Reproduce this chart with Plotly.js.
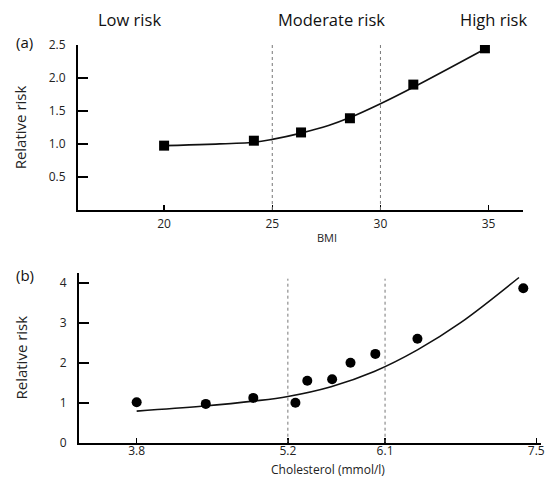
<!DOCTYPE html>
<html>
<head>
<meta charset="utf-8">
<script src="https://cdn.plot.ly/plotly-3.0.1.min.js"></script>
<style>html,body{margin:0;padding:0;background:#fff;}#chart{width:551px;height:481px;}</style>
</head>
<body>
<div id="chart"></div>
<script>
// Panel (a): BMI vs relative risk
const bmiX = [20, 24.15, 26.33, 28.59, 31.52, 34.83];
const bmiRisk = [0.975, 1.05, 1.175, 1.39, 1.90, 2.45];
const bmiCurveX = [20, 22, 24.15, 25, 26.33, 27.6, 28.59, 30, 31.52, 34.83];
const bmiCurveY = [0.975, 0.995, 1.027, 1.07, 1.165, 1.28, 1.40, 1.61, 1.86, 2.44];
const bmiCutoffs = [25, 30];
const bmiTicks = [20, 25, 30, 35];
const riskTicksA = [0.5, 1.0, 1.5, 2.0, 2.5];

// Panel (b): Cholesterol vs relative risk
const cholX = [3.8, 4.44, 4.88, 5.27, 5.38, 5.61, 5.78, 6.01, 6.40, 7.38];
const cholRisk = [1.01, 0.97, 1.12, 1.00, 1.55, 1.585, 2.00, 2.22, 2.60, 3.86];
const cholCurveX = [3.8, 4.4, 4.9, 5.2, 5.6, 6.0, 6.4, 6.8, 7.34];
const cholCurveY = [0.79, 0.91, 1.045, 1.156, 1.40, 1.78, 2.32, 3.0, 4.13];
const cholCutoffs = [5.2, 6.1];
const cholTicks = [3.8, 5.2, 6.1, 7.5];
const riskTicksB = [0, 1, 2, 3, 4];

const zoneLabels = ["Low risk", "Moderate risk", "High risk"];

const FONT = "'Open Sans', 'DejaVu Sans', sans-serif";
const W = 551, H = 481;

const traces = [
  {x: bmiCurveX, y: bmiCurveY, mode: 'lines', line: {color: '#111', width: 1.6, shape: 'spline', smoothing: 1}, xaxis: 'x', yaxis: 'y', hoverinfo: 'skip'},
  {x: bmiX, y: bmiRisk, mode: 'markers', marker: {symbol: 'square', size: 10, color: '#000'}, xaxis: 'x', yaxis: 'y'},
  {x: cholCurveX, y: cholCurveY, mode: 'lines', line: {color: '#111', width: 1.6, shape: 'spline', smoothing: 1}, xaxis: 'x2', yaxis: 'y2', hoverinfo: 'skip'},
  {x: cholX, y: cholRisk, mode: 'markers', marker: {symbol: 'circle', size: 10, color: '#000'}, xaxis: 'x2', yaxis: 'y2'}
];

const shapes = [];
bmiCutoffs.forEach(c => shapes.push({type: 'line', xref: 'x', yref: 'y', x0: c, x1: c, y0: 0, y1: 2.5, line: {color: '#777', width: 1, dash: 'dot'}}));
cholCutoffs.forEach(c => shapes.push({type: 'line', xref: 'x2', yref: 'y2', x0: c, x1: c, y0: 0, y1: 4.1, line: {color: '#777', width: 1, dash: 'dot'}}));

const annPos = [129, 331.5, 493];
const annotations = zoneLabels.map((t, i) => ({
  text: t, xref: 'paper', yref: 'paper', x: annPos[i] / W, y: 1 - 19 / H,
  xanchor: 'center', yanchor: 'middle', showarrow: false, font: {family: FONT, size: 16.5, color: '#111'}
}));
annotations.push({text: '(a)', xref: 'paper', yref: 'paper', x: 24.5 / W, y: 1 - 41.5 / H, xanchor: 'center', yanchor: 'middle', showarrow: false, font: {family: FONT, size: 15, color: '#111'}});
annotations.push({text: '(b)', xref: 'paper', yref: 'paper', x: 24.5 / W, y: 1 - 275 / H, xanchor: 'center', yanchor: 'middle', showarrow: false, font: {family: FONT, size: 15, color: '#111'}});
annotations.push({text: 'BMI', xref: 'paper', yref: 'paper', x: 327 / W, y: 1 - 237.5 / H, xanchor: 'center', yanchor: 'middle', showarrow: false, font: {family: FONT, size: 11, color: '#222'}});
annotations.push({text: 'Cholesterol (mmol/l)', xref: 'paper', yref: 'paper', x: 327.5 / W, y: 1 - 469 / H, xanchor: 'center', yanchor: 'middle', showarrow: false, font: {family: FONT, size: 12, color: '#222'}});

const axisCommon = {
  showgrid: false, zeroline: false, showline: true, linecolor: '#000', linewidth: 2,
  tickcolor: '#000', tickfont: {family: FONT, size: 12, color: '#222'}, fixedrange: true
};

const layout = {
  width: W, height: H,
  margin: {l: 0, r: 0, t: 0, b: 0},
  paper_bgcolor: '#fff', plot_bgcolor: '#fff',
  showlegend: false,
  xaxis: Object.assign({}, axisCommon, {
    domain: [78 / W, 523 / W], range: [16.02, 36.59], anchor: 'y',
    tickmode: 'array', tickvals: bmiTicks, ticks: 'inside', ticklen: 5, tickwidth: 1.5,
    ticklabelstandoff: 2
  }),
  yaxis: Object.assign({}, axisCommon, {
    domain: [1 - 210 / H, 1 - 45 / H], range: [0, 2.5], anchor: 'x',
    tickmode: 'array', tickvals: riskTicksA, tickformat: '.1f', ticks: 'inside', ticklen: 10, tickwidth: 2,
    ticklabelstandoff: 8,
    title: {text: 'Relative risk', font: {family: FONT, size: 15, color: '#222'}, standoff: 18}
  }),
  xaxis2: Object.assign({}, axisCommon, {
    domain: [79 / W, 541 / W], range: [3.266, 7.544], anchor: 'y2',
    tickmode: 'array', tickvals: cholTicks, tickformat: '.1f', ticks: 'inside', ticklen: 5, tickwidth: 1.5,
    ticklabelstandoff: -4
  }),
  yaxis2: Object.assign({}, axisCommon, {
    domain: [1 - 442.7 / H, 1 - 272.7 / H], range: [0, 4.25], anchor: 'x2',
    tickmode: 'array', tickvals: riskTicksB, ticks: 'inside', ticklen: 10, tickwidth: 2,
    ticklabelstandoff: 8,
    title: {text: 'Relative risk', font: {family: FONT, size: 15, color: '#222'}, standoff: 28}
  }),
  shapes: shapes,
  annotations: annotations
};

Plotly.newPlot('chart', traces, layout, {displayModeBar: false, staticPlot: true});
</script>
</body>
</html>
